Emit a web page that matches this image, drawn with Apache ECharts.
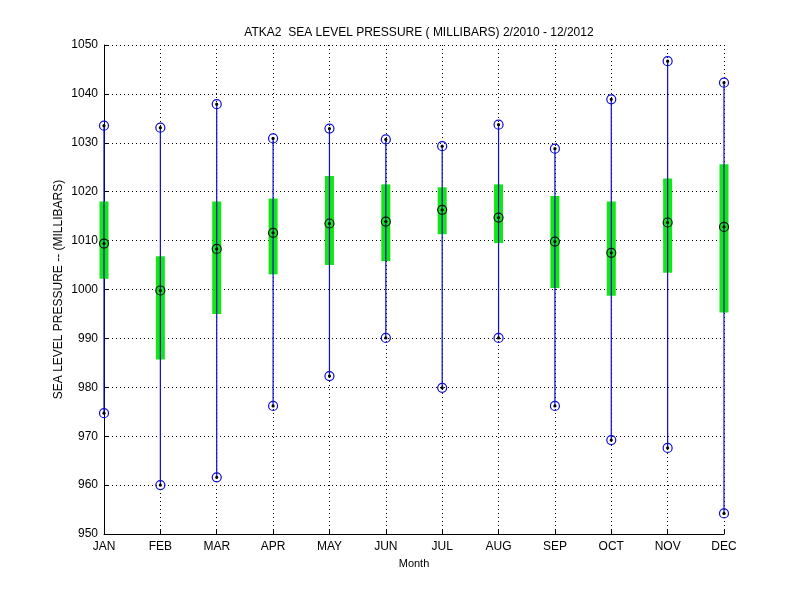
<!DOCTYPE html>
<html>
<head>
<meta charset="utf-8">
<script src="https://cdn.jsdelivr.net/npm/echarts@6/dist/echarts.min.js"></script>
<style>html,body{margin:0;padding:0;background:#fff}#c{width:800px;height:600px}</style>
</head>
<body>
<div id="c"></div>
<script>
const months = ['JAN','FEB','MAR','APR','MAY','JUN','JUL','AUG','SEP','OCT','NOV','DEC'];
const maxV    = [1033.5, 1033.1, 1037.9, 1030.9, 1032.9, 1030.7, 1029.3, 1033.7, 1028.8, 1038.9, 1046.7, 1042.3];
const boxHigh = [1018.0, 1006.8, 1018.0, 1018.6, 1023.2, 1021.5, 1020.9, 1021.5, 1019.1, 1018.0, 1022.7, 1025.6];
const midV    = [1009.4,  999.8, 1008.3, 1011.6, 1013.5, 1013.9, 1016.3, 1014.7, 1009.8, 1007.5, 1013.7, 1012.8];
const boxLow  = [1002.2,  985.7,  995.0, 1003.1, 1005.0, 1005.8, 1011.3, 1009.5, 1000.3,  998.7, 1003.4,  995.3];
const minV    = [ 974.7,  960.0,  961.6,  976.2,  982.3,  990.1,  979.9,  990.1,  976.2,  969.2,  967.6,  954.2];
const yTicks = { min: 950, max: 1050, interval: 10 };

const FONT = 'Liberation Sans, Arial, sans-serif';
const BLUE = '#0c0cd0';
const GREEN = '#14e614';

const data = months.map((m, i) => [i, minV[i], boxLow[i], midV[i], boxHigh[i], maxV[i]]);

function marker(pt, ringColor) {
  return [
    { type: 'circle', shape: { cx: pt[0], cy: pt[1], r: 4.5 }, style: { fill: 'none', stroke: ringColor, lineWidth: 1.2 } },
    { type: 'circle', shape: { cx: pt[0], cy: pt[1], r: 1.6 }, style: { fill: '#000', stroke: null } }
  ];
}

const chart = echarts.init(document.getElementById('c'), null, { renderer: 'canvas' });
chart.setOption({
  backgroundColor: '#fff',
  animation: false,
  title: {
    text: 'ATKA2  SEA LEVEL PRESSURE ( MILLIBARS) 2/2010 - 12/2012',
    left: 414, top: 22, textAlign: 'center',
    textStyle: { fontFamily: FONT, fontSize: 12, fontWeight: 'normal', color: '#000' }
  },
  grid: { left: 104, right: 76, top: 45, bottom: 66 },
  xAxis: {
    type: 'category', data: months, boundaryGap: false,
    name: 'Month', nameLocation: 'middle', nameGap: 24,
    nameTextStyle: { fontFamily: FONT, fontSize: 11, color: '#000' },
    axisLine: { lineStyle: { color: '#000', width: 1 } },
    axisTick: { inside: true, length: 5, lineStyle: { color: '#000' } },
    axisLabel: { fontFamily: FONT, fontSize: 12, color: '#000', margin: 7, interval: 0 },
    splitLine: { show: true, lineStyle: { color: '#000', type: [1, 3], width: 1 } }
  },
  yAxis: {
    type: 'value', min: yTicks.min, max: yTicks.max, interval: yTicks.interval,
    name: 'SEA LEVEL PRESSURE -- (MILLIBARS)', nameLocation: 'middle', nameGap: 39,
    nameMoveOverlap: false,
    nameTextStyle: { fontFamily: FONT, fontSize: 12, color: '#000' },
    axisLine: { show: true, lineStyle: { color: '#000', width: 1 } },
    axisTick: { show: true, inside: true, length: 5, lineStyle: { color: '#000' } },
    axisLabel: { fontFamily: FONT, fontSize: 12, color: '#000', margin: 6, formatter: v => String(v) },
    splitLine: { show: true, lineStyle: { color: '#000', type: [1, 3], width: 1 } }
  },
  series: [{
    type: 'custom',
    clip: false,
    z: 5,
    data: data,
    encode: { x: 0, y: [1, 2, 3, 4, 5] },
    renderItem: function (params, api) {
      const i = api.value(0);
      const pMin = api.coord([i, api.value(1)]);
      const pLow = api.coord([i, api.value(2)]);
      const pMid = api.coord([i, api.value(3)]);
      const pHigh = api.coord([i, api.value(4)]);
      const pMax = api.coord([i, api.value(5)]);
      const w = 9;
      const children = [
        { type: 'rect', shape: { x: pHigh[0] - w / 2, y: pHigh[1], width: w, height: pLow[1] - pHigh[1] }, style: { fill: GREEN } },
        { type: 'line', shape: { x1: pMax[0], y1: pMax[1], x2: pMin[0], y2: pMin[1] }, style: { stroke: BLUE, lineWidth: 1.2 } }
      ].concat(marker(pMax, BLUE), marker(pMin, BLUE), marker(pMid, '#111'));
      return { type: 'group', children: children };
    }
  }]
});
</script>
</body>
</html>
